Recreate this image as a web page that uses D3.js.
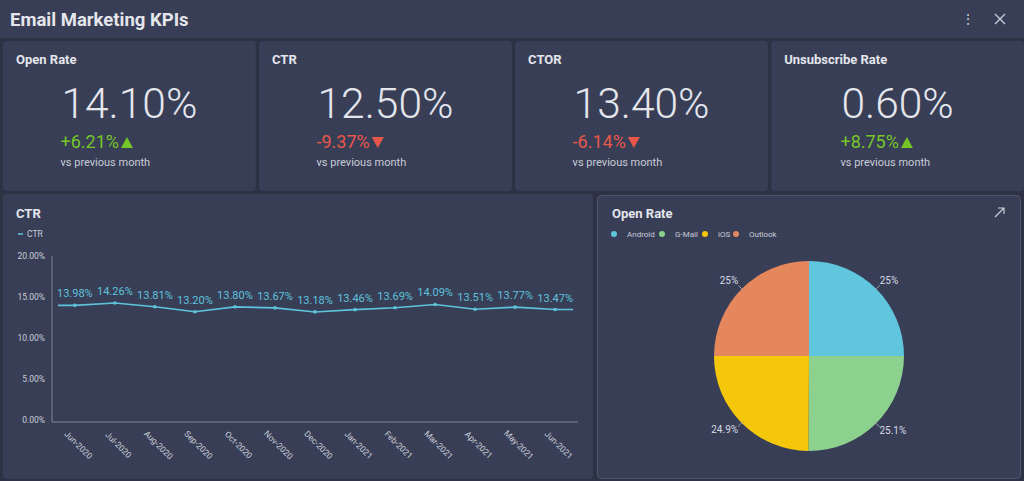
<!DOCTYPE html>
<html>
<head>
<meta charset="utf-8">
<script src="https://cdn.jsdelivr.net/npm/d3@7"></script>
<style>
  body { margin: 0; background: #2d3244; font-family: Roboto, "Noto Sans", sans-serif; }
  svg { display: block; }
</style>
</head>
<body>
<svg id="dash" width="1024" height="481"></svg>
<script>
// kpi cards
var kpiNames = ['Open Rate', 'CTR', 'CTOR', 'Unsubscribe Rate'];
var kpiValues = ['14.10%', '12.50%', '13.40%', '0.60%'];
var kpiChanges = [6.21, -9.37, -6.14, 8.75];

// ctr line chart
var months = ['Jun-2020', 'Jul-2020', 'Aug-2020', 'Sep-2020', 'Oct-2020', 'Nov-2020', 'Dec-2020',
  'Jan-2021', 'Feb-2021', 'Mar-2021', 'Apr-2021', 'May-2021', 'Jun-2021'];
var ctrValues = [13.98, 14.26, 13.81, 13.20, 13.80, 13.67, 13.18, 13.46, 13.69, 14.09, 13.51, 13.77, 13.47];
var yTicks = [0, 5, 10, 15, 20];

// open rate pie
var pieLabels = ['Android', 'G-Mail', 'iOS', 'Outlook'];
var pieValues = [25, 25.1, 24.9, 25];
var pieColors = ['#5fc6dd', '#8dd18e', '#f5c70a', '#e5875c'];

var PANEL = '#383e56';
var TEXT = '#e4e6ec';
var SUB = '#c9cdd7';
var UP = '#76c62a';
var DOWN = '#e8574a';
var LINE = '#5ec3dc';

var svg = d3.select('#dash');

// header
svg.append('rect').attr('x', 0).attr('y', 0).attr('width', 1024).attr('height', 38).attr('fill', PANEL);
svg.append('text').attr('x', 10).attr('y', 26)
  .attr('fill', TEXT).attr('font-size', 18.5).attr('font-weight', 'bold')
  .text('Email Marketing KPIs');
svg.append('text').attr('x', 968).attr('y', 24).attr('text-anchor', 'middle')
  .attr('fill', SUB).attr('font-size', 14).text('\u22EE');
svg.append('path').attr('d', 'M995,14 L1005,24 M1005,14 L995,24')
  .attr('stroke', SUB).attr('stroke-width', 1.3);

// kpi cards
var cardX = d3.scaleBand().domain(kpiNames).range([3, 1024]).paddingInner(0.0125);

var cards = svg.selectAll('g.card').data(kpiNames).join('g')
  .attr('class', 'card')
  .attr('transform', function (d) { return 'translate(' + cardX(d) + ',41)'; });

cards.append('rect').attr('width', cardX.bandwidth()).attr('height', 150).attr('rx', 4).attr('fill', PANEL);
cards.append('text').attr('x', 13).attr('y', 23)
  .attr('fill', TEXT).attr('font-size', 13).attr('font-weight', 'bold')
  .text(function (d) { return d; });

cards.each(function (d, i) {
  var g = d3.select(this);
  var cx = cardX.bandwidth() / 2;
  var big = g.append('text').attr('x', cx).attr('y', 77).attr('text-anchor', 'middle')
    .attr('fill', TEXT).attr('font-size', 42.5).attr('font-weight', 300)
    .text(kpiValues[i]);
  var left = cx - big.node().getComputedTextLength() / 2 - 1;
  var ch = kpiChanges[i];
  var col = ch >= 0 ? UP : DOWN;
  var t = g.append('text').attr('x', left).attr('y', 107)
    .attr('fill', col).attr('font-size', 18)
    .text((ch >= 0 ? '+' : '') + ch.toFixed(2) + '%');
  var tx = left + t.node().getComputedTextLength() + 2;
  var tri = ch >= 0
    ? 'M' + tx + ',107 L' + (tx + 12) + ',107 L' + (tx + 6) + ',96 Z'
    : 'M' + tx + ',96 L' + (tx + 12) + ',96 L' + (tx + 6) + ',107 Z';
  g.append('path').attr('d', tri).attr('fill', col);
  g.append('text').attr('x', left).attr('y', 125)
    .attr('fill', SUB).attr('font-size', 11).text('vs previous month');
});

// ctr panel
svg.append('rect').attr('x', 3).attr('y', 194).attr('width', 590).attr('height', 285).attr('rx', 4).attr('fill', PANEL);
svg.append('text').attr('x', 16).attr('y', 218)
  .attr('fill', TEXT).attr('font-size', 13).attr('font-weight', 'bold').text('CTR');
svg.append('line').attr('x1', 18).attr('x2', 23).attr('y1', 234).attr('y2', 234)
  .attr('stroke', LINE).attr('stroke-width', 1.5);
svg.append('text').attr('x', 27).attr('y', 237)
  .attr('fill', SUB).attr('font-size', 8.5).text('CTR');

var x = d3.scalePoint().domain(months).range([52, 578]).padding(0.57);
var y = d3.scaleLinear().domain([0, 20]).range([420, 256]);

var yAxis = svg.append('g').attr('transform', 'translate(52,0)')
  .call(d3.axisLeft(y).tickValues(yTicks).tickSize(0).tickPadding(7)
    .tickFormat(function (d) { return d.toFixed(2) + '%'; }));
yAxis.select('.domain').attr('stroke', '#7f859a').attr('d', 'M0,256V422');
yAxis.selectAll('text').attr('fill', SUB).attr('font-size', 8.5).attr('font-family', 'Roboto');

var xAxis = svg.append('g').attr('transform', 'translate(0,422)')
  .call(d3.axisBottom(x).tickSize(0).tickPadding(0));
xAxis.select('.domain').attr('stroke', '#7f859a').attr('d', 'M52,0H578');
xAxis.selectAll('text')
  .attr('fill', SUB).attr('font-size', 8.5).attr('font-family', 'Roboto')
  .attr('text-anchor', 'middle').attr('dy', 0)
  .attr('transform', 'translate(1,25) rotate(45)');

var r = x.range();
var pts = ctrValues.map(function (v, i) { return [x(months[i]), y(v)]; });
var ext = [[r[0] + 6, pts[0][1]]].concat(pts, [[r[1] - 5, pts[pts.length - 1][1]]]);
svg.append('path').datum(ext)
  .attr('d', d3.line())
  .attr('fill', 'none').attr('stroke', LINE).attr('stroke-width', 1.6);
svg.selectAll('circle.pt').data(pts).join('circle')
  .attr('class', 'pt')
  .attr('cx', function (d) { return d[0]; }).attr('cy', function (d) { return d[1]; })
  .attr('r', 1.8).attr('fill', LINE);
svg.selectAll('text.lbl').data(ctrValues).join('text')
  .attr('class', 'lbl')
  .attr('x', function (d, i) { return x(months[i]); })
  .attr('y', function (d) { return y(d) - 8; })
  .attr('text-anchor', 'middle').attr('fill', LINE).attr('font-size', 11)
  .text(function (d) { return d.toFixed(2) + '%'; });

// open rate panel
svg.append('rect').attr('x', 597.5).attr('y', 195.5).attr('width', 423).attr('height', 283).attr('rx', 4)
  .attr('fill', PANEL).attr('stroke', '#4d546d');
svg.append('text').attr('x', 612).attr('y', 218)
  .attr('fill', TEXT).attr('font-size', 13).attr('font-weight', 'bold').text('Open Rate');
svg.append('path').attr('d', 'M995,217 L1004,208 M998,208 L1004,208 L1004,214')
  .attr('fill', 'none').attr('stroke', SUB).attr('stroke-width', 1.2);

var legX = [614, 662, 705, 736];
var leg = svg.selectAll('g.leg').data(pieLabels).join('g')
  .attr('class', 'leg')
  .attr('transform', function (d, i) { return 'translate(' + legX[i] + ',234)'; });
leg.append('circle').attr('r', 3).attr('fill', function (d, i) { return pieColors[i]; });
leg.append('text').attr('x', 13).attr('y', 3).attr('fill', SUB).attr('font-size', 8)
  .text(function (d) { return d; });

var R = 95;
var pie = d3.pie().sort(null)(pieValues);
var arc = d3.arc().innerRadius(0).outerRadius(R);
var pg = svg.append('g').attr('transform', 'translate(809,356)');
pg.selectAll('path').data(pie).join('path')
  .attr('d', arc).attr('fill', function (d, i) { return pieColors[i]; });

pie.forEach(function (d) {
  var a = (d.startAngle + d.endAngle) / 2;
  var sx = Math.sin(a), sy = -Math.cos(a);
  pg.append('line')
    .attr('x1', sx * (R - 2)).attr('y1', sy * (R - 2))
    .attr('x2', sx * (R + 5)).attr('y2', sy * (R + 5))
    .attr('stroke', '#9aa0b2').attr('stroke-width', 1);
  pg.append('text')
    .attr('x', sx * (R + 5))
    .attr('y', sy * (R + 5) + (sy < 0 ? -1 : 7))
    .attr('text-anchor', sx > 0 ? 'start' : 'end')
    .attr('fill', '#d8dbe3').attr('font-size', 10)
    .text(+d.data.toFixed(1) + '%');
});
</script>
</body>
</html>
